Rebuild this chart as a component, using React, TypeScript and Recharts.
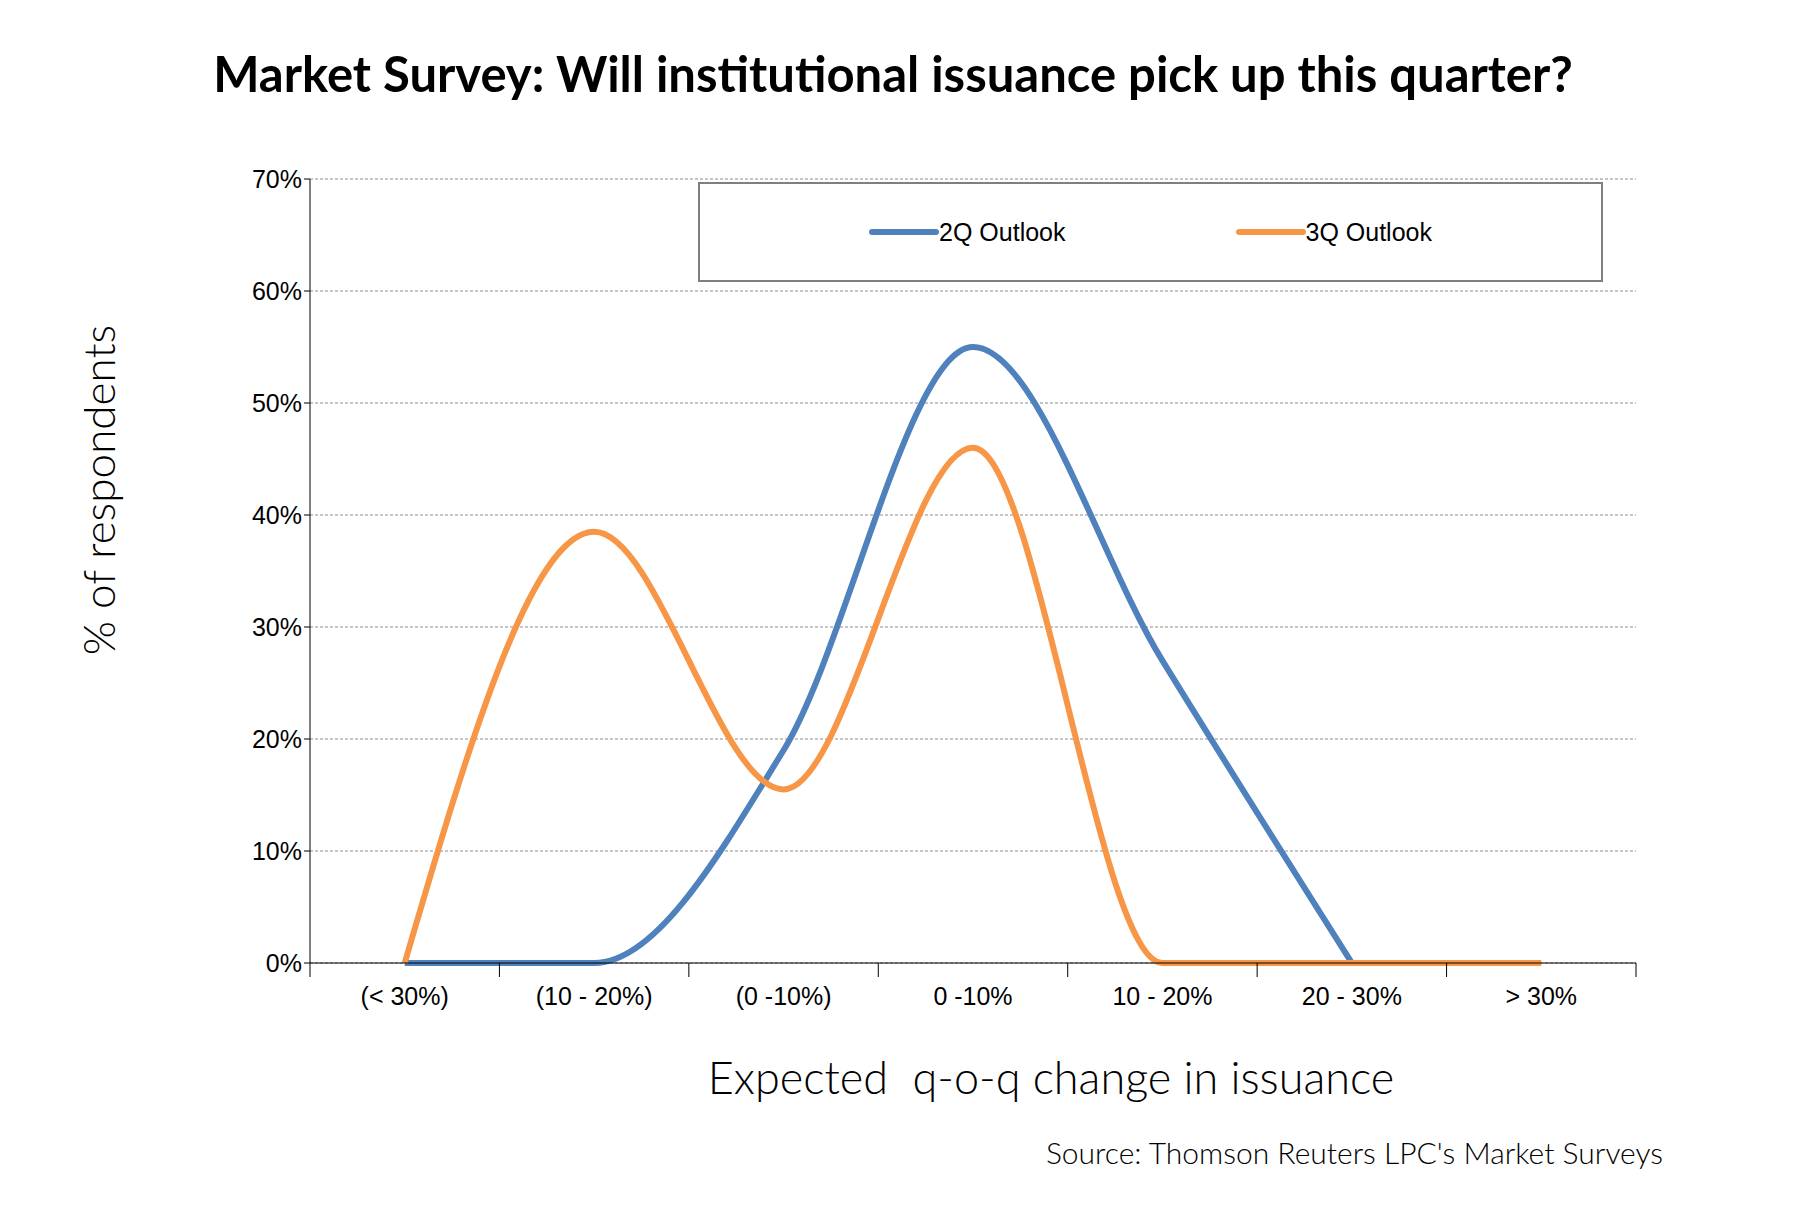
import React from "react";
import { LineChart, Line, XAxis, YAxis, CartesianGrid } from "recharts";

// Survey buckets and share of respondents (%)
const buckets = ["(< 30%)", "(10 - 20%)", "(0 -10%)", "0 -10%", "10 - 20%", "20 - 30%", "> 30%"];
const outlook2Q = [0, 0, 19, 55, 27, 0, null];
const outlook3Q = [0, 38.5, 15.5, 46, 0, 0, 0];
const yTicks = [0, 10, 20, 30, 40, 50, 60, 70];

const data = buckets.map((b, i) => ({ bucket: b, q2: outlook2Q[i], q3: outlook3Q[i] }));

const W = 1804;
const H = 1222;
const PLOT_LEFT = 310;
const PLOT_RIGHT = 1636;
const band = (PLOT_RIGHT - PLOT_LEFT) / buckets.length;

const BLUE = "#4f81bd";
const ORANGE = "#f79646";

function BucketTick(props: any) {
  const { x, y, payload, index } = props;
  const left = x - band / 2;
  return (
    <g>
      <line x1={left} y1={y - 8} x2={left} y2={y + 6} stroke="#000" />
      {index === buckets.length - 1 && (
        <line x1={x + band / 2} y1={y - 8} x2={x + band / 2} y2={y + 6} stroke="#000" />
      )}
      <text x={x} y={y + 34} textAnchor="middle" fontSize={25} fill="#000" fontFamily="Liberation Sans, Arial">
        {payload.value}
      </text>
    </g>
  );
}

function LegendBox() {
  const item = (color: string, label: string) => (
    <div style={{ display: "flex", alignItems: "center", marginRight: 170, whiteSpace: "nowrap" }}>
      <div style={{ width: 70, height: 6, background: color, borderRadius: 3 }} />
      <span style={{ fontSize: 25, fontFamily: "Liberation Sans, Arial", color: "#000" }}>{label}</span>
    </div>
  );
  return (
    <div
      style={{
        position: "absolute",
        left: 698,
        top: 182,
        width: 905,
        height: 100,
        border: "2px solid #7f7f7f",
        background: "#fff",
        display: "flex",
        alignItems: "center",
        justifyContent: "center",
        boxSizing: "border-box",
        paddingLeft: 170,
      }}
    >
      {item(BLUE, "2Q Outlook")}
      {item(ORANGE, "3Q Outlook")}
    </div>
  );
}

export default function App() {
  return (
    <div style={{ position: "relative", width: W, height: H, margin: -8, background: "#fff", fontFamily: "Lato, sans-serif" }}>
      <div style={{ position: "absolute", left: 0, width: 1786, top: 44, textAlign: "center", fontSize: 49, fontWeight: 700, color: "#000" }}>
        Market Survey: Will institutional issuance pick up this quarter?
      </div>
      <div
        style={{
          position: "absolute",
          left: 98,
          top: 490,
          transform: "translate(-50%, -50%) rotate(-90deg)",
          fontSize: 44,
          fontWeight: 300,
          whiteSpace: "nowrap",
          color: "#000",
        }}
      >
        % of respondents
      </div>
      <div style={{ position: "absolute", left: 0, width: 2102, top: 1050, textAlign: "center", fontSize: 45, fontWeight: 300, color: "#000" }}>
        Expected&nbsp; q-o-q change in issuance
      </div>
      <div style={{ position: "absolute", right: W - 1663, top: 1134, fontSize: 30, fontWeight: 300, color: "#000" }}>
        Source: Thomson Reuters LPC's Market Surveys
      </div>
      <LineChart width={W} height={H} data={data} margin={{ top: 179, left: 230, right: W - PLOT_RIGHT, bottom: 199 }}>
        <CartesianGrid vertical={false} strokeDasharray="3 2" stroke="#8c8c8c" />
        <XAxis
          dataKey="bucket"
          height={60}
          tickLine={false}
          axisLine={{ stroke: "#000" }}
          interval={0}
          padding={{ left: band / 2, right: band / 2 }}
          tick={<BucketTick />}
        />
        <YAxis
          width={80}
          domain={[0, 70]}
          ticks={yTicks}
          tickFormatter={(v) => `${v}%`}
          axisLine={{ stroke: "#000" }}
          tickLine={{ stroke: "#000" }}
          tickSize={6}
          tick={{ fontSize: 25, fill: "#000", fontFamily: "Liberation Sans, Arial" }}
        />
        <Line type="monotone" dataKey="q2" stroke={BLUE} strokeWidth={6} dot={false} isAnimationActive={false} />
        <Line type="monotone" dataKey="q3" stroke={ORANGE} strokeWidth={6} dot={false} isAnimationActive={false} />
      </LineChart>
      <LegendBox />
    </div>
  );
}
